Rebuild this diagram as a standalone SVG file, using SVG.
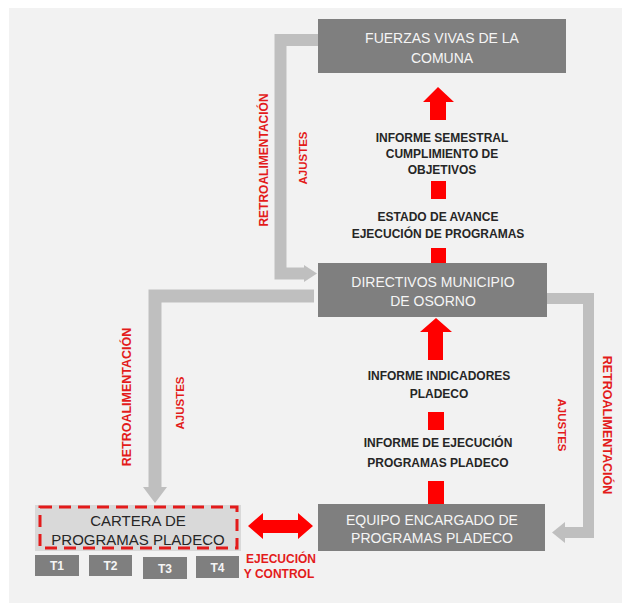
<svg xmlns="http://www.w3.org/2000/svg" width="622" height="603" viewBox="0 0 622 603">
<style>
.box{fill:#7f7f7f}
.bt{font-family:"Liberation Sans",Arial,sans-serif;font-size:14px;fill:#f5f5f5;text-anchor:middle}
.mt{font-family:"Liberation Sans",Arial,sans-serif;font-size:12px;font-weight:bold;fill:#262626;text-anchor:middle}
.rt{font-family:"Liberation Sans",Arial,sans-serif;font-size:12px;font-weight:bold;fill:#e31b1b;text-anchor:middle;dominant-baseline:central}
.conn{fill:none;stroke:#bfbfbf;stroke-linejoin:miter}
.gh{fill:#bfbfbf}
.red{fill:#ff0000}
.tb{fill:#7f7f7f}
.tt{font-family:"Liberation Sans",Arial,sans-serif;font-size:12px;font-weight:bold;fill:#f5f5f5;text-anchor:middle}
</style>
<rect x="9" y="8" width="613" height="595" fill="#f2f2f2"/>
<g id="connectors">
<path class="conn" stroke-width="12" d="M318,40 H280.5 V273.5 H305"/>
<polygon class="gh" points="304,265 317,273.5 304,282"/>
<path class="conn" stroke-width="13" d="M314,296 H155 V488"/>
<polygon class="gh" points="143,487 167,487 155,503"/>
<path class="conn" stroke-width="11" d="M547,298.5 H588.5 V532.5 H564"/>
<polygon class="gh" points="565,522 552,532.5 565,543"/>
<polygon class="red" points="438,87 454,102 446,102 446,120 430,120 430,102 423,102"/>
<rect class="red" x="431" y="181" width="15" height="18"/>
<rect class="red" x="431" y="248" width="15" height="15"/>
<polygon class="red" points="436,318 452,332 443,332 443,360 428,360 428,332 420,332"/>
<rect class="red" x="428" y="412" width="16" height="18"/>
<rect class="red" x="428" y="481" width="16" height="23"/>
<polygon class="red" points="248,526 263,513 263,520 298,520 298,513 313,526 298,539 298,533 263,533 263,539"/>
<text class="rt" transform="translate(264,160) rotate(-90)">RETROALIMENTACIÓN</text>
<text class="rt" transform="translate(303,158) rotate(-90)" style="font-size:11.5px">AJUSTES</text>
<text class="rt" transform="translate(127,397) rotate(-90)" style="font-size:12.5px">RETROALIMENTACIÓN</text>
<text class="rt" transform="translate(180,403) rotate(-90)" style="font-size:11.5px">AJUSTES</text>
<text class="rt" transform="translate(607,425) rotate(90)" style="font-size:12.5px">RETROALIMENTACIÓN</text>
<text class="rt" transform="translate(562,425) rotate(90)" style="font-size:11.5px">AJUSTES</text>
<text class="mt" x="442" y="142">INFORME SEMESTRAL</text>
<text class="mt" x="442" y="158">CUMPLIMIENTO DE</text>
<text class="mt" x="442" y="174">OBJETIVOS</text>
<text class="mt" x="438" y="221">ESTADO DE AVANCE</text>
<text class="mt" x="438" y="238">EJECUCIÓN DE PROGRAMAS</text>
<text class="mt" x="439" y="380">INFORME INDICADORES</text>
<text class="mt" x="439" y="398">PLADECO</text>
<text class="mt" x="438" y="447">INFORME DE EJECUCIÓN</text>
<text class="mt" x="438" y="467">PROGRAMAS PLADECO</text>
<text class="mt" x="281" y="563" style="fill:#e31b1b">EJECUCIÓN</text>
<text class="mt" x="279" y="578" style="fill:#e31b1b">Y CONTROL</text>
</g>
<g id="fuerzas">
<rect class="box" x="318" y="19" width="248" height="54"/>
<text class="bt" x="442" y="43">FUERZAS VIVAS DE LA</text>
<text class="bt" x="442" y="63">COMUNA</text>
</g>
<g id="directivos">
<rect class="box" x="318" y="263" width="229" height="54"/>
<text class="bt" x="433" y="287">DIRECTIVOS MUNICIPIO</text>
<text class="bt" x="433" y="306">DE OSORNO</text>
</g>
<g id="equipo">
<rect class="box" x="318" y="504" width="227" height="47"/>
<text class="bt" x="432" y="525">EQUIPO ENCARGADO DE</text>
<text class="bt" x="432" y="543">PROGRAMAS PLADECO</text>
</g>
<g id="cartera">
<rect x="35" y="505" width="206" height="46" fill="#d9d9d9"/>
<rect x="40" y="507" width="197" height="41" fill="none" stroke="#e31b1b" stroke-width="3" stroke-dasharray="12 7"/>
<text class="bt" x="138" y="526" style="fill:#262626;font-size:15px">CARTERA DE</text>
<text class="bt" x="138" y="545" style="fill:#262626;font-size:15px">PROGRAMAS PLADECO</text>
</g>
<g id="t1"><rect class="tb" x="35" y="555" width="44" height="21"/><text class="tt" x="57" y="570">T1</text></g>
<g id="t2"><rect class="tb" x="89" y="555" width="43" height="21"/><text class="tt" x="110.5" y="570">T2</text></g>
<g id="t3"><rect class="tb" x="143" y="557" width="44" height="22"/><text class="tt" x="165" y="573">T3</text></g>
<g id="t4"><rect class="tb" x="196" y="556" width="43" height="22"/><text class="tt" x="217.5" y="572">T4</text></g>
</svg>
